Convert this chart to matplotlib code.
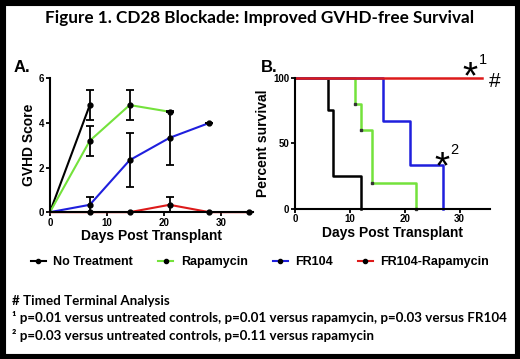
import matplotlib.pyplot as plt
from matplotlib.lines import Line2D
from matplotlib.patches import Rectangle

# ---- data: panel A (GVHD score) ----
days_none = [0, 7]
score_none = [0, 4.8]
err_none = [0, 0.67]

days_rapa = [0, 7, 14, 21]
score_rapa = [0, 3.2, 4.8, 4.5]
err_rapa = [0, 0.67, 0.67, 0]

days_fr = [0, 7, 14, 21, 28]
score_fr = [0, 0.33, 2.33, 3.33, 4.0]
err_fr = [0, 0.33, 1.2, 1.2, 0]

days_combo = [0, 7, 14, 21, 28, 35]
score_combo = [0, 0, 0, 0.33, 0, 0]
err_combo = [0, 0, 0, 0.33, 0, 0]

# ---- data: panel B (survival) ----
t_none = [0, 6, 7, 12]
s_none = [100, 75, 25, 0]
t_rapa = [0, 11, 12, 14, 22]
s_rapa = [100, 80, 60, 20, 0]
t_fr = [0, 16, 21, 27]
s_fr = [100, 66.7, 33.3, 0]
t_combo = [0, 34]
s_combo = [100, 100]

labels = ["No Treatment", "Rapamycin", "FR104", "FR104-Rapamycin"]
colors = ["black", "#74e23c", "#1f1fdd", "#dd1a1a"]

plt.rcParams["font.family"] = ["Liberation Sans", "DejaVu Sans"]
plt.rcParams["font.weight"] = "bold"

fig = plt.figure(figsize=(5.2, 3.59), dpi=100)

def style(ax):
    for s in ["top", "right"]:
        ax.spines[s].set_visible(False)
    for s in ["left", "bottom"]:
        ax.spines[s].set_linewidth(1.5)
    ax.tick_params(width=1.3, length=3, labelsize=7, pad=1)
    for lab in ax.get_xticklabels() + ax.get_yticklabels():
        lab.set_fontweight("bold")

# Panel A
axA = fig.add_axes([0.096, 0.409, 0.390, 0.373])
for d, v, e, c in zip([days_none, days_rapa, days_fr, days_combo],
                      [score_none, score_rapa, score_fr, score_combo],
                      [err_none, err_rapa, err_fr, err_combo], colors):
    axA.plot(d, v, color=c, lw=1.5, zorder=2, clip_on=False)
    axA.errorbar(d[1:], v[1:], yerr=e[1:], fmt="o", color="black", ms=3.5,
                 ecolor="black", elinewidth=1.3, capsize=3, capthick=1.3,
                 zorder=3, clip_on=False)
axA.set_xlim(0, 35.6)
axA.set_ylim(0, 6)
axA.set_xticks([0, 10, 20, 30])
axA.set_yticks([0, 2, 4, 6])
axA.set_xlabel("Days Post Transplant", fontsize=10, fontweight="bold", labelpad=1)
axA.set_ylabel("GVHD Score", fontsize=10, fontweight="bold", labelpad=2)
style(axA)

# Panel B
axB = fig.add_axes([0.567, 0.418, 0.375, 0.366])
for t, s, c in zip([t_none, t_rapa, t_fr, t_combo],
                   [s_none, s_rapa, s_fr, s_combo], colors):
    axB.step(t, s, where="post", color=c, lw=1.8, clip_on=False)
axB.plot(t_rapa[1:], s_rapa[1:], "s", color="#333333", ms=1.5, clip_on=False)
axB.set_xlim(0, 35.5)
axB.set_ylim(0, 100)
axB.set_xticks([0, 10, 20, 30])
axB.set_yticks([0, 50, 100])
axB.set_xlabel("Days Post Transplant", fontsize=10, fontweight="bold", labelpad=1)
axB.set_ylabel("Percent survival", fontsize=10, fontweight="bold", labelpad=2)
style(axB)

mark = dict(fontweight="normal", ha="center", clip_on=False)
axB.text(31.8, 91.5, "*", fontsize=28, va="baseline", **mark)
axB.text(34.2, 113, "1", fontsize=10.5, va="center", **mark)
axB.text(36.4, 97, "#", fontsize=15, va="center", **mark)
axB.text(26.7, 23, "*", fontsize=28, va="baseline", **mark)
axB.text(29.0, 45, "2", fontsize=10.5, va="center", **mark)

# panel letters
fig.text(14 / 520, 1 - 68 / 359, "A.", fontsize=12, fontweight="bold", va="center")
fig.text(261 / 520, 1 - 67 / 359, "B.", fontsize=12, fontweight="bold", va="center")

# title
fig.text(0.5, 1 - 18 / 359, "Figure 1. CD28 Blockade: Improved GVHD-free Survival",
         fontsize=12.3, fontweight="bold", ha="center", va="center",
         family=["Lato", "DejaVu Sans"])

# legend
handles = [Line2D([0], [0], color=c, lw=1.5, marker="o", ms=3,
                  mfc="black", mec="black") for c in colors]
fig.legend(handles, labels, loc="center", bbox_to_anchor=(0.5, 1 - 262 / 359),
           ncol=4, frameon=False, handlelength=1.2,
           handletextpad=0.6, columnspacing=2.0, prop={"weight": "bold", "size": 9})

# footnotes
fn = dict(fontsize=9.6, fontweight="bold", family=["Lato", "DejaVu Sans"], va="center")
fig.text(12 / 520, 1 - 301 / 359, "# Timed Terminal Analysis", **fn)
fig.text(12 / 520, 1 - 318 / 359,
         "¹ p=0.01 versus untreated controls, p=0.01 versus rapamycin, p=0.03 versus FR104", **fn)
fig.text(12 / 520, 1 - 335 / 359,
         "² p=0.03 versus untreated controls, p=0.11 versus rapamycin", **fn)

# black frame
fig.patches.append(Rectangle((0, 0), 1, 1, transform=fig.transFigure, fill=False,
                             edgecolor="black", lw=8, zorder=10))

fig.savefig("out.png", dpi=100)
